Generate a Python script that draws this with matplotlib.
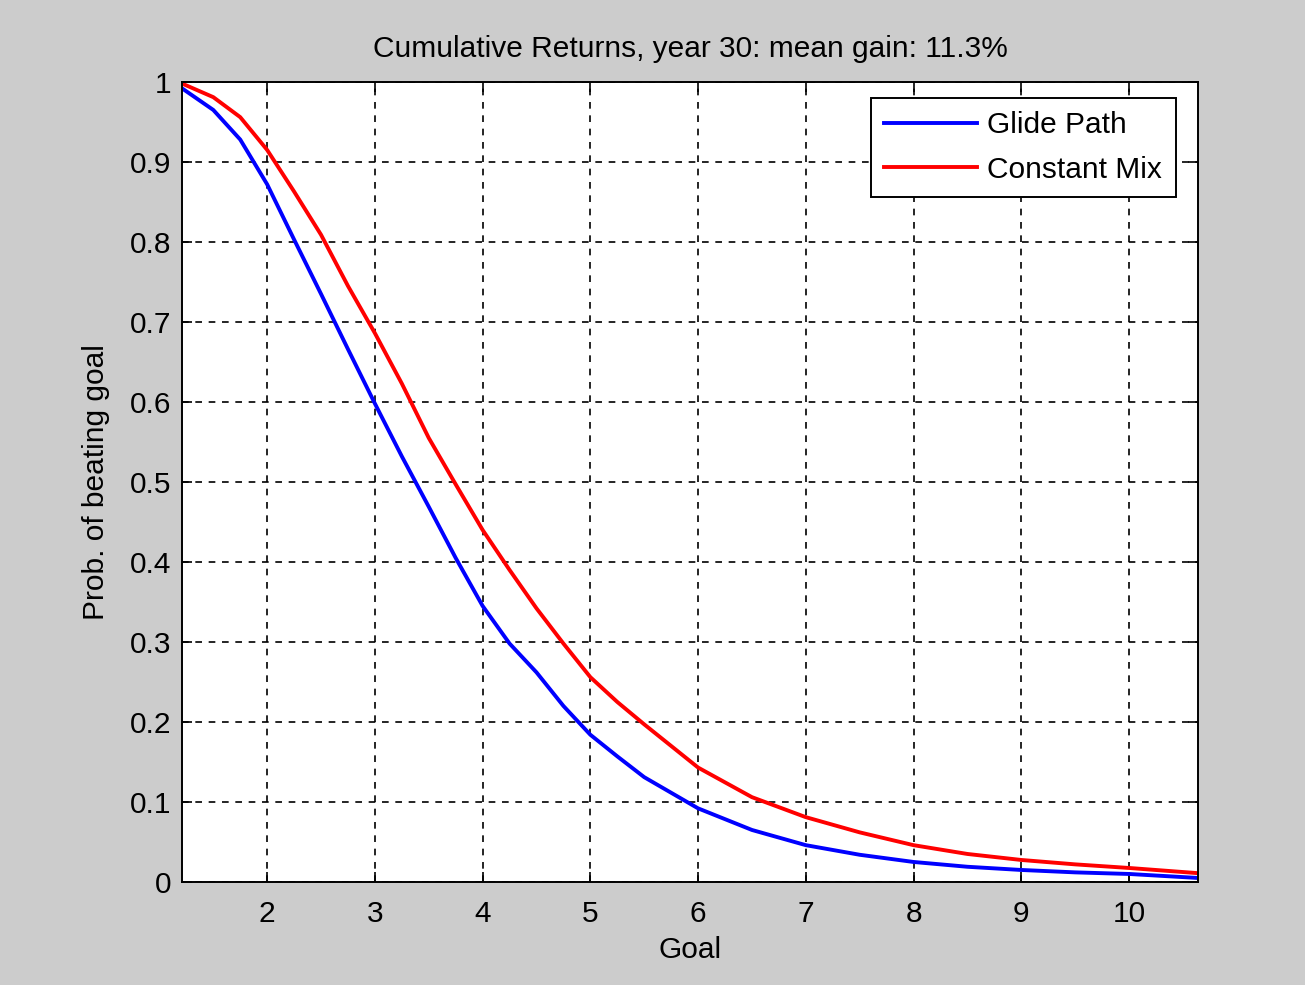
import numpy as np
import matplotlib.pyplot as plt

# goal multiple vs probability of beating it, year 30
goal = [1.21, 1.5, 1.75, 2.0, 2.25, 2.5, 2.75, 3.0, 3.25, 3.5, 3.75, 4.0, 4.25, 4.5,
        4.75, 5.0, 5.25, 5.5, 6.0, 6.5, 7.0, 7.5, 8.0, 8.5, 9.0, 9.5, 10.0, 10.64]
glide_path = [0.992, 0.965, 0.928, 0.872, 0.803, 0.735, 0.666, 0.598, 0.532, 0.469, 0.405,
              0.345, 0.298, 0.262, 0.22, 0.184, 0.157, 0.131, 0.092, 0.065, 0.046, 0.034,
              0.025, 0.019, 0.015, 0.012, 0.01, 0.005]
constant_mix = [0.998, 0.981, 0.956, 0.915, 0.863, 0.809, 0.745, 0.686, 0.623, 0.555, 0.497,
                0.44, 0.39, 0.342, 0.298, 0.256, 0.225, 0.197, 0.143, 0.106, 0.081, 0.062,
                0.046, 0.035, 0.0275, 0.022, 0.0175, 0.011]

plt.rcParams['font.family'] = ['Liberation Sans', 'DejaVu Sans']
fs = 21.5

fig = plt.figure(figsize=(13.05, 9.85), dpi=100, facecolor='#cccccc')
ax = fig.add_axes([0.1395, 0.1046, 0.7785, 0.8122])

ax.plot(goal, glide_path, color='blue', lw=2.8, label='Glide Path')
ax.plot(goal, constant_mix, color='red', lw=2.8, label='Constant Mix')

ax.set_xlim(1.21, 10.64)
ax.set_ylim(0, 1)
ax.set_xticks(range(2, 11))
ax.set_yticks(np.arange(0, 1.01, 0.1))
ax.set_yticklabels(['0', '0.1', '0.2', '0.3', '0.4', '0.5', '0.6', '0.7', '0.8', '0.9', '1'])
ax.tick_params(direction='in', length=7, width=1.2, top=True, right=True, labelsize=fs)
ax.tick_params(axis='x', pad=13)
ax.tick_params(axis='y', pad=8)
ax.grid(True, color='black', linestyle=(0, (4, 4)), linewidth=1.2)
for s in ax.spines.values():
    s.set_linewidth(1.4)

ax.set_title('Cumulative Returns, year 30: mean gain: 11.3%', fontsize=fs, pad=18)
ax.set_xlabel('Goal', fontsize=fs, labelpad=6)
ax.set_ylabel('Prob. of beating goal', fontsize=fs, labelpad=14)

leg = ax.legend(loc='upper right', bbox_to_anchor=(0.978, 0.98), fontsize=fs,
                fancybox=False, framealpha=1, edgecolor='black', handlelength=3.1,
                handletextpad=0.35, borderaxespad=0, borderpad=0.45, labelspacing=0.55)
leg.get_frame().set_linewidth(1.4)

fig.savefig('out.png', dpi=100, facecolor=fig.get_facecolor())
